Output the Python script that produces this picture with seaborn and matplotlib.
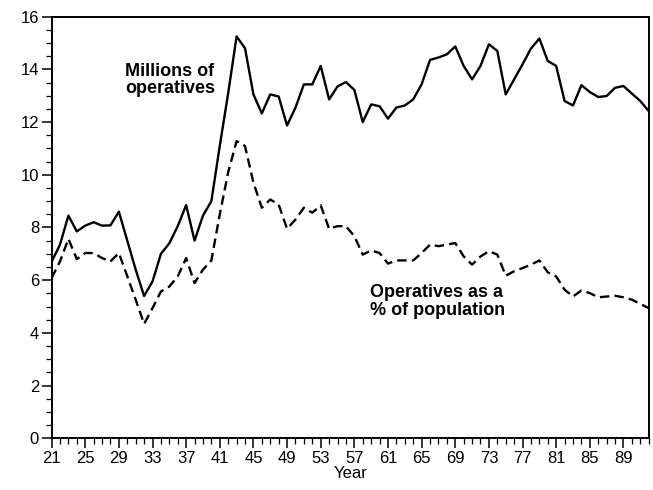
import matplotlib
matplotlib.use("Agg")
import matplotlib.pyplot as plt
from matplotlib.ticker import MultipleLocator
import pandas as pd
import seaborn as sns

# === Data ===
years = list(range(1921, 1993))

# Millions of operatives
millions = [
    6.7, 7.35, 8.45, 7.85, 8.07, 8.2, 8.07, 8.08, 8.6, 7.5,        # 1921-1930
    6.4, 5.4, 5.95, 7.0, 7.4, 8.05, 8.85, 7.5, 8.45, 9.0,          # 1931-1940
    11.1, 13.1, 15.25, 14.8, 13.05, 12.33, 13.05, 12.97, 11.87, 12.55,  # 1941-1950
    13.43, 13.43, 14.13, 12.86, 13.35, 13.52, 13.22, 12.0, 12.67, 12.6,  # 1951-1960
    12.13, 12.55, 12.63, 12.86, 13.43, 14.36, 14.45, 14.57, 14.87, 14.13,  # 1961-1970
    13.62, 14.13, 14.95, 14.7, 13.05, 13.62, 14.19, 14.79, 15.17, 14.32,  # 1971-1980
    14.13, 12.8, 12.63, 13.4, 13.14, 12.95, 12.99, 13.3, 13.37, 13.08,  # 1981-1990
    12.8, 12.42,                                                    # 1991-1992
]

# Operatives as a % of population
percent = [
    6.08, 6.71, 7.57, 6.8, 7.03, 7.03, 6.84, 6.71, 7.03, 6.15,     # 1921-1930
    5.26, 4.34, 4.94, 5.57, 5.76, 6.14, 6.84, 5.89, 6.4, 6.75,     # 1931-1940
    8.5, 10.1, 11.28, 11.09, 9.7, 8.75, 9.06, 8.87, 7.95, 8.3,     # 1941-1950
    8.75, 8.56, 8.84, 7.95, 8.05, 8.05, 7.67, 6.97, 7.13, 7.03,    # 1951-1960
    6.63, 6.75, 6.75, 6.75, 7.03, 7.35, 7.29, 7.35, 7.41, 6.9,     # 1961-1970
    6.59, 6.9, 7.1, 6.97, 6.17, 6.34, 6.46, 6.59, 6.75, 6.3,       # 1971-1980
    6.14, 5.64, 5.38, 5.61, 5.51, 5.35, 5.38, 5.41, 5.35, 5.26,    # 1981-1990
    5.1, 4.94,                                                      # 1991-1992
]

tick_years = [1921, 1925, 1929, 1933, 1937, 1941, 1945, 1949, 1953,
              1957, 1961, 1965, 1969, 1973, 1977, 1981, 1985, 1989]
tick_labels = ['21', '25', '29', '33', '37', '41', '45', '49', '53',
               '57', '61', '65', '69', '73', '77', '81', '85', '89']
y_ticks = [0, 2, 4, 6, 8, 10, 12, 14, 16]

df = pd.DataFrame({'Year': years, 'Millions': millions, 'Percent': percent})

# === Style ===
sns.set_style("ticks")
plt.rcParams['font.family'] = ['Liberation Sans', 'DejaVu Sans']
plt.rcParams['text.color'] = 'black'
plt.rcParams['axes.labelcolor'] = 'black'

fig = plt.figure(figsize=(6.53, 4.90), dpi=100)
ax = fig.add_axes([0.079, 0.1055, 0.9144, 0.8605])

sns.lineplot(data=df, x='Year', y='Millions', ax=ax, color='black', linewidth=1.7)
sns.lineplot(data=df, x='Year', y='Percent', ax=ax, color='black', linewidth=1.7,
             linestyle=(0, (4, 2.2)))

ax.set_xlim(1921, 1992)
ax.set_ylim(0, 16)

ax.set_xticks(tick_years)
ax.set_xticklabels(tick_labels)
ax.xaxis.set_minor_locator(MultipleLocator(1))
ax.set_yticks(y_ticks)
ax.yaxis.set_minor_locator(MultipleLocator(0.5))

ax.tick_params(axis='both', which='major', direction='out', length=7, width=1.1,
               labelsize=12, colors='black', pad=2)
ax.tick_params(axis='both', which='minor', direction='out', length=4, width=0.9,
               colors='black')

for side in ['left', 'right', 'top', 'bottom']:
    ax.spines[side].set_visible(True)
    ax.spines[side].set_linewidth(1.4)
    ax.spines[side].set_color('black')

ax.set_xlabel('Year', fontsize=12, labelpad=0, color='black')
ax.set_ylabel('')

# === Annotations ===
ax.text(1929.7, 13.6, 'Millions of\noperatives', fontsize=13, fontweight='bold',
        color='black', ha='left', va='center', linespacing=1.05)
ax.text(1958.9, 5.2, 'Operatives as a\n% of population', fontsize=13, fontweight='bold',
        color='black', ha='left', va='center', linespacing=1.05)

fig.savefig('out.png', dpi=100)
